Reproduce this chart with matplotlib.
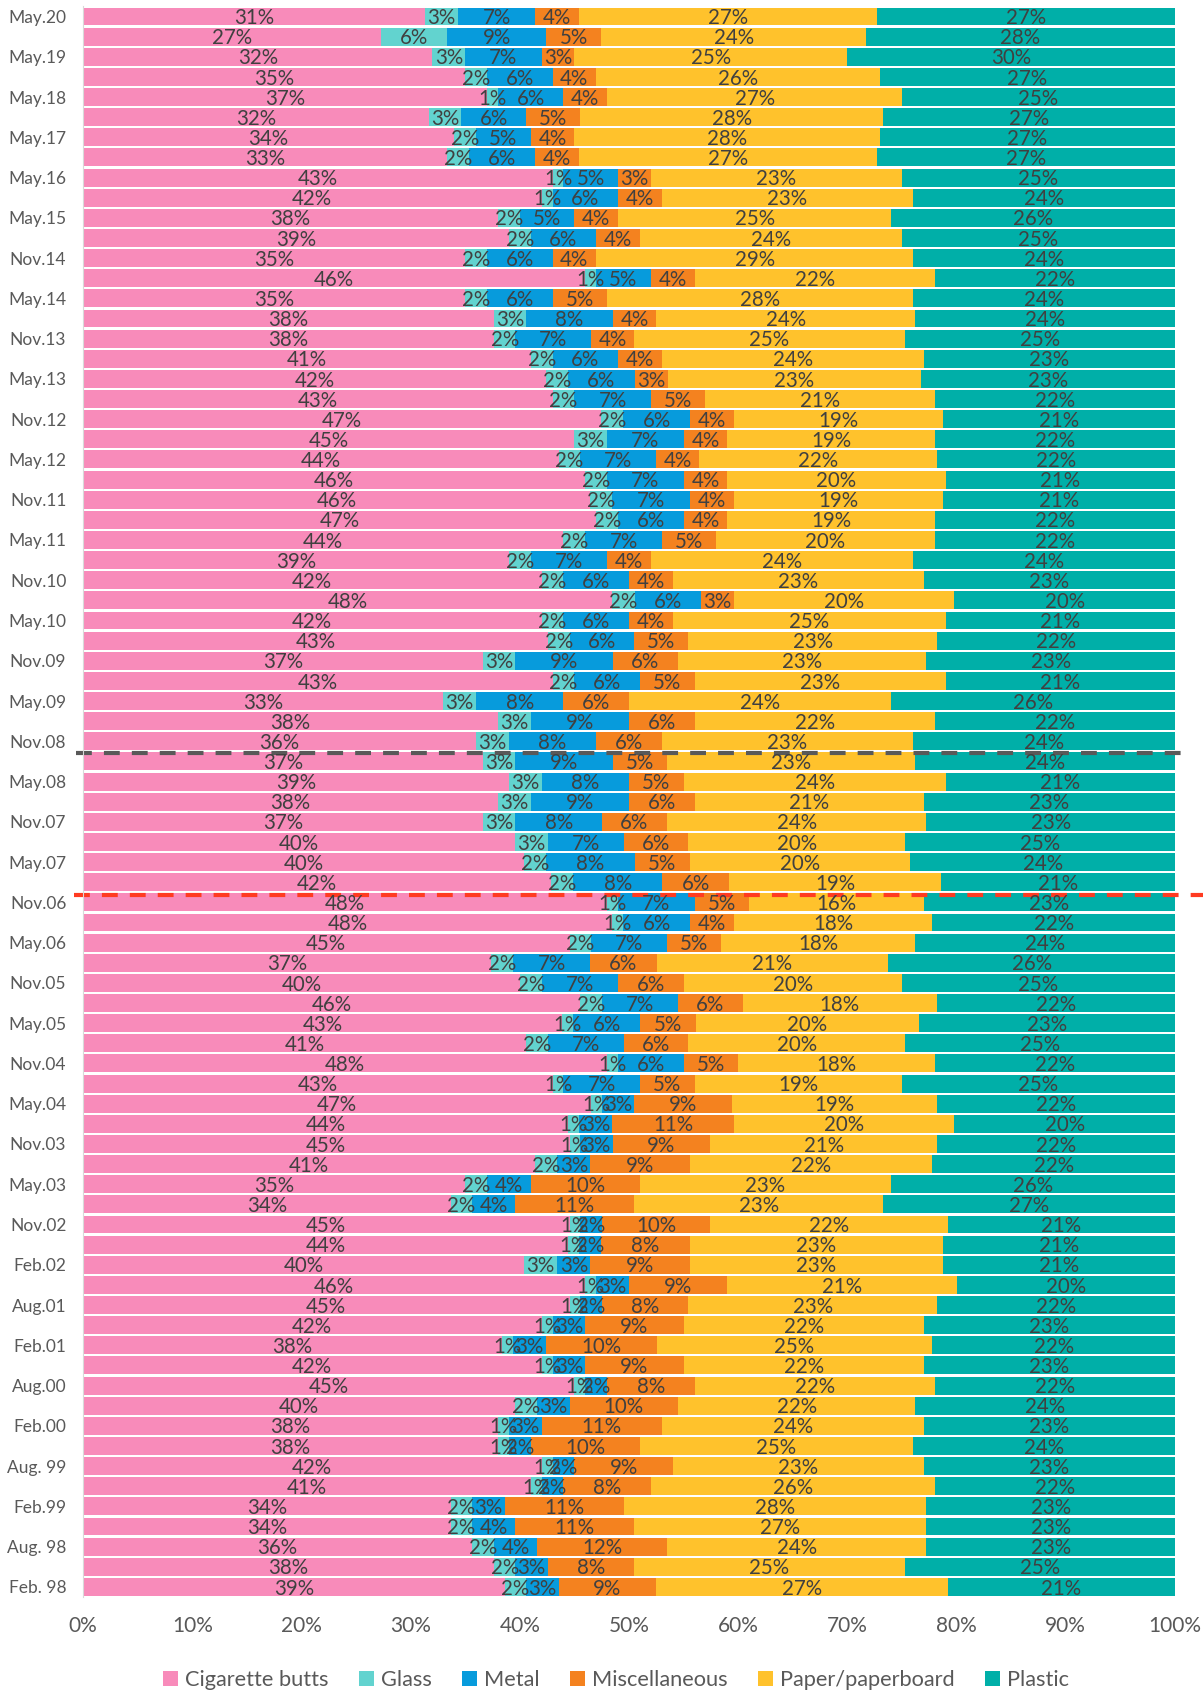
import matplotlib
matplotlib.use("Agg")
import matplotlib.pyplot as plt
from matplotlib.patches import Patch
import numpy as np

plt.rcParams["font.family"] = ["Lato", "DejaVu Sans"]

# rows listed top (May.20) to bottom (Feb. 98), values in %
cigarette = [31, 27, 32, 35, 37, 32, 34, 33, 43, 42,
             38, 39, 35, 46, 35, 38, 38, 41, 42, 43,
             47, 45, 44, 46, 46, 47, 44, 39, 42, 48,
             42, 43, 37, 43, 33, 38, 36, 37, 39, 38,
             37, 40, 40, 42, 48, 48, 45, 37, 40, 46,
             43, 41, 48, 43, 47, 44, 45, 41, 35, 34,
             45, 44, 40, 46, 45, 42, 38, 42, 45, 40,
             38, 38, 42, 41, 34, 34, 36, 38, 39]
glass = [3, 6, 3, 2, 1, 3, 2, 2, 1, 1,
         2, 2, 2, 1, 2, 3, 2, 2, 2, 2,
         2, 3, 2, 2, 2, 2, 2, 2, 2, 2,
         2, 2, 3, 2, 3, 3, 3, 3, 3, 3,
         3, 3, 2, 2, 1, 1, 2, 2, 2, 2,
         1, 2, 1, 1, 1, 1, 1, 2, 2, 2,
         1, 1, 3, 1, 1, 1, 1, 1, 1, 2,
         1, 1, 1, 1, 2, 2, 2, 2, 2]
metal = [7, 9, 7, 6, 6, 6, 5, 6, 5, 6,
         5, 6, 6, 5, 6, 8, 7, 6, 6, 7,
         6, 7, 7, 7, 7, 6, 7, 7, 6, 6,
         6, 6, 9, 6, 8, 9, 8, 9, 8, 9,
         8, 7, 8, 8, 7, 6, 7, 7, 7, 7,
         6, 7, 6, 7, 3, 3, 3, 3, 4, 4,
         2, 2, 3, 3, 2, 3, 3, 3, 2, 3,
         3, 2, 2, 2, 3, 4, 4, 3, 3]
misc = [4, 5, 3, 4, 4, 5, 4, 4, 3, 4,
        4, 4, 4, 4, 5, 4, 4, 4, 3, 5,
        4, 4, 4, 4, 4, 4, 5, 4, 4, 3,
        4, 5, 6, 5, 6, 6, 6, 5, 5, 6,
        6, 6, 5, 6, 5, 4, 5, 6, 6, 6,
        5, 6, 5, 5, 9, 11, 9, 9, 10, 11,
        10, 8, 9, 9, 8, 9, 10, 9, 8, 10,
        11, 10, 9, 8, 11, 11, 12, 8, 9]
paper = [27, 24, 25, 26, 27, 28, 28, 27, 23, 23,
         25, 24, 29, 22, 28, 24, 25, 24, 23, 21,
         19, 19, 22, 20, 19, 19, 20, 24, 23, 20,
         25, 23, 23, 23, 24, 22, 23, 23, 24, 21,
         24, 20, 20, 19, 16, 18, 18, 21, 20, 18,
         20, 20, 18, 19, 19, 20, 21, 22, 23, 23,
         22, 23, 23, 21, 23, 22, 25, 22, 22, 22,
         24, 25, 23, 26, 28, 27, 24, 25, 27]
plastic = [27, 28, 30, 27, 25, 27, 27, 27, 25, 24,
           26, 25, 24, 22, 24, 24, 25, 23, 23, 22,
           21, 22, 22, 21, 21, 22, 22, 24, 23, 20,
           21, 22, 23, 21, 26, 22, 24, 24, 21, 23,
           23, 25, 24, 21, 23, 22, 24, 26, 25, 22,
           23, 25, 22, 25, 22, 20, 22, 22, 26, 27,
           21, 21, 21, 20, 22, 23, 22, 23, 22, 24,
           23, 24, 23, 22, 23, 23, 23, 25, 21]

series_names = ["Cigarette butts", "Glass", "Metal", "Miscellaneous",
                "Paper/paperboard", "Plastic"]
colors = ["#F88BBA", "#62D3CF", "#079BDC", "#F4821F", "#FFC22C", "#00AFA8"]

# every second bar carries a label, bottom to top
period_labels = ["Feb. 98", "Aug. 98", "Feb.99", "Aug. 99", "Feb.00", "Aug.00",
                 "Feb.01", "Aug.01", "Feb.02", "Nov.02", "May.03", "Nov.03",
                 "May.04", "Nov.04", "May.05", "Nov.05", "May.06", "Nov.06",
                 "May.07", "Nov.07", "May.08", "Nov.08", "May.09", "Nov.09",
                 "May.10", "Nov.10", "May.11", "Nov.11", "May.12", "Nov.12",
                 "May.13", "Nov.13", "May.14", "Nov.14", "May.15", "May.16",
                 "May.17", "May.18", "May.19", "May.20"]

data = np.array([cigarette, glass, metal, misc, paper, plastic], dtype=float)
data = data[:, ::-1]  # bottom-up
shares = data / data.sum(axis=0)
n = data.shape[1]
y = np.arange(n)

fig = plt.figure(figsize=(12.03, 16.91), dpi=100)
ax = fig.add_axes([0.069, 0.0556, 0.9077, 0.9406])

left = np.zeros(n)
for k in range(len(series_names)):
    ax.barh(y, shares[k], left=left, height=0.89, color=colors[k],
            label=series_names[k])
    for i in range(n):
        ax.text(left[i] + shares[k][i] / 2, y[i] - 0.08, f"{int(data[k][i])}%",
                ha="center", va="center", fontsize=14.8, color="#404040")
    left += shares[k]

ax.set_xlim(0, 1)
ax.set_ylim(-0.5, n - 0.5)
ax.set_xticks(np.linspace(0, 1, 11))
ax.set_xticklabels([f"{v}%" for v in range(0, 101, 10)], fontsize=15, color="#595959")
ax.set_yticks(y[::2])
ax.set_yticklabels(period_labels, fontsize=12.5, color="#595959")
ax.tick_params(axis="both", length=0)
ax.tick_params(axis="x", pad=14)
ax.tick_params(axis="y", pad=12)
for side in ["top", "right", "bottom"]:
    ax.spines[side].set_visible(False)
ax.spines["left"].set_color("#D9D9D9")

# policy change markers
ax.plot([-0.006, 1.012], [41.4, 41.4], color="#595959", lw=3,
        dashes=(3.8, 2.9), clip_on=False)
ax.plot([-0.008, 1.04], [34.35, 34.35], color="#FF3B21", lw=3,
        dashes=(3.8, 2.9), clip_on=False)

handles = [Patch(facecolor=c, label=s) for c, s in zip(colors, series_names)]
fig.legend(handles=handles, loc="center", bbox_to_anchor=(0.512, 0.0065),
           ncol=6, frameon=False, fontsize=15.7, handlelength=0.7,
           handleheight=0.7, handletextpad=0.3, columnspacing=1.4,
           labelcolor="#595959")

fig.savefig("out.png", dpi=100)
